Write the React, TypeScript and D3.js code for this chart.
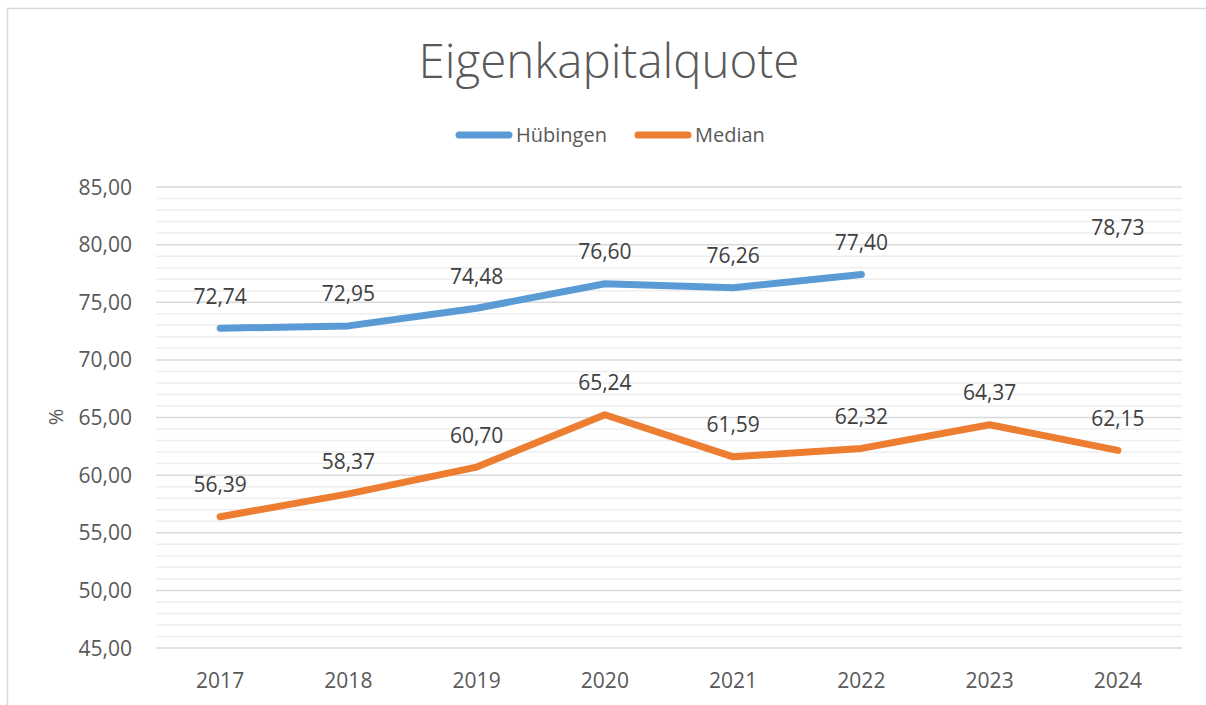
import React from "react";
import * as d3 from "d3";

const years = ["2017", "2018", "2019", "2020", "2021", "2022", "2023", "2024"];
const huebingen: (number | null)[] = [72.74, 72.95, 74.48, 76.6, 76.26, 77.4, null, 78.73];
const median: (number | null)[] = [56.39, 58.37, 60.7, 65.24, 61.59, 62.32, 64.37, 62.15];
const yTicks = [45, 50, 55, 60, 65, 70, 75, 80, 85];
const seriesNames = ["Hübingen", "Median"];

const W = 1206;
const H = 705;
const FONT = "'Open Sans', 'Noto Sans', sans-serif";

export default function App() {
  const x = d3.scaleBand<string>().domain(years).range([156, 1182]);
  const y = d3.scaleLinear().domain([45, 85]).range([648, 187]);
  const cx = (d: string) => (x(d) ?? 0) + x.bandwidth() / 2;
  const fmt = (v: number) => v.toFixed(2).replace(".", ",");
  const minor = d3.range(45, 85.001, 1).filter((v) => v % 5 !== 0);

  const line = d3
    .line<{ v: number; i: number }>()
    .x((d) => cx(years[d.i]))
    .y((d) => y(d.v));

  // split into contiguous runs; isolated points get no line (Excel shows no marker)
  const runs = (data: (number | null)[]) => {
    const out: { v: number; i: number }[][] = [];
    let cur: { v: number; i: number }[] = [];
    data.forEach((v, i) => {
      if (v === null) {
        if (cur.length) out.push(cur);
        cur = [];
      } else cur.push({ v, i });
    });
    if (cur.length) out.push(cur);
    return out.filter((r) => r.length > 1);
  };

  const series = [
    { name: seriesNames[0], data: huebingen, color: "#5B9BD5" },
    { name: seriesNames[1], data: median, color: "#ED7D31" },
  ];

  return (
    <svg
      width={W}
      height={H}
      style={{ position: "absolute", left: 0, top: 0, background: "#fff" }}
    >
      <rect x={0} y={0} width={W} height={H} fill="#fff" />
      <rect x={7.5} y={8.5} width={W + 20} height={H + 20} fill="#fff" stroke="#D9D9D9" strokeWidth={1.5} />
      <text x={609} y={78} textAnchor="middle" fontFamily={FONT} fontWeight={300} fontSize={47.5} fill="#595959">
        Eigenkapitalquote
      </text>
      {/* legend */}
      {series.map((s, i) => {
        const lx = i === 0 ? 459 : 638;
        return (
          <g key={s.name}>
            <line x1={lx} x2={lx + 50} y1={135} y2={135} stroke={s.color} strokeWidth={7} strokeLinecap="round" />
            <text x={lx + 57} y={142} fontFamily={FONT} fontSize={20} fill="#595959">
              {s.name}
            </text>
          </g>
        );
      })}
      {/* gridlines */}
      {minor.map((v) => (
        <line key={"m" + v} x1={156} x2={1182} y1={y(v)} y2={y(v)} stroke="#EEEEEE" strokeWidth={1.5} />
      ))}
      {yTicks.map((v) => (
        <line key={"g" + v} x1={156} x2={1182} y1={y(v)} y2={y(v)} stroke="#D9D9D9" strokeWidth={1.5} />
      ))}
      {/* y tick labels */}
      {yTicks.map((v) => (
        <text key={"t" + v} x={132} y={y(v) + 7.5} textAnchor="end" fontFamily={FONT} fontSize={21} fill="#595959">
          {fmt(v)}
        </text>
      ))}
      <text
        transform={`translate(63,417) rotate(-90)`}
        textAnchor="middle"
        fontFamily={FONT}
        fontSize={20}
        fill="#595959"
      >
        %
      </text>
      {/* x labels */}
      {years.map((yr) => (
        <text key={yr} x={cx(yr)} y={688} textAnchor="middle" fontFamily={FONT} fontSize={21} fill="#595959">
          {yr}
        </text>
      ))}
      {/* lines */}
      {series.map((s) =>
        runs(s.data).map((r, k) => (
          <path
            key={s.name + k}
            d={line(r) ?? ""}
            fill="none"
            stroke={s.color}
            strokeWidth={7}
            strokeLinecap="round"
            strokeLinejoin="round"
          />
        ))
      )}
      {/* data labels */}
      {series.map((s) =>
        s.data.map((v, i) =>
          v === null ? null : (
            <text
              key={s.name + i}
              x={cx(years[i])}
              y={y(v) - 24.5}
              textAnchor="middle"
              fontFamily={FONT}
              fontSize={21}
              fill="#404040"
            >
              {fmt(v)}
            </text>
          )
        )
      )}
    </svg>
  );
}
